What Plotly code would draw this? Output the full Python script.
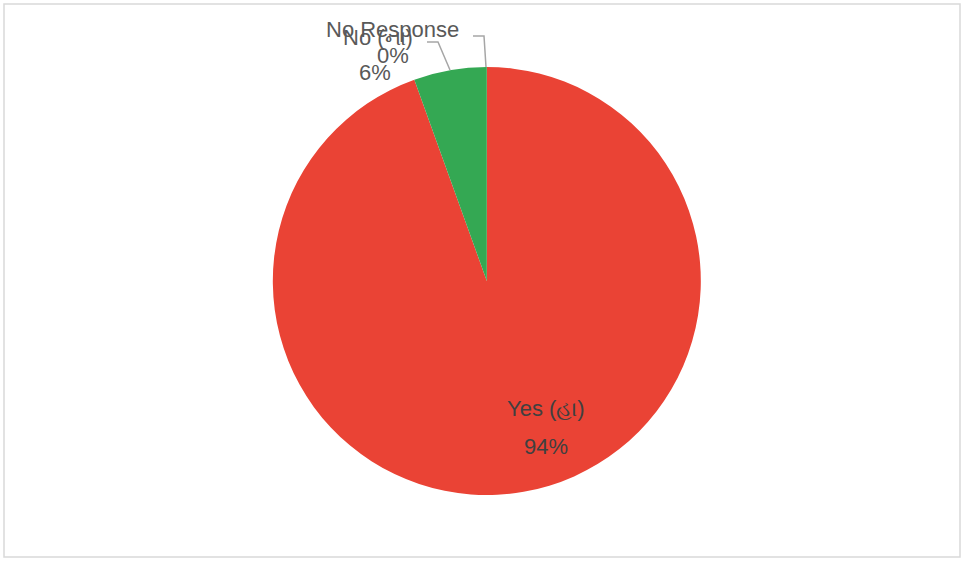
import plotly.graph_objects as go

labels = ["Yes (હા)", "No (ના)", "No Response"]
values = [94.5, 5.5, 0]
colors = ["#EA4335", "#34A853", "#FBBC04"]

W, H = 964, 561
ML, MR, MT, MB = 0, 0, 67, 66
PW, PH = W - ML - MR, H - MT - MB

def px(x):
    return (x - ML) / PW

def py(y):
    return (H - MB - y) / PH

fig = go.Figure(go.Pie(
    labels=labels,
    values=values,
    marker=dict(colors=colors, line=dict(width=0)),
    sort=False,
    direction="clockwise",
    rotation=0,
    textinfo="none",
    domain=dict(x=[0.01, 1], y=[0, 1]),
    showlegend=False,
    hoverinfo="label+percent",
))

total = sum(values)
pcts = [f"{v / total * 100:.0f}%" for v in values]
font_out = dict(family="Arial, Liberation Sans", size=22, color="#595959")
font_in = dict(family="Arial, Liberation Sans", size=22, color="#404040")

annotations = [
    dict(text=labels[0], x=px(546), y=py(408), font=font_in),
    dict(text=pcts[0], x=px(546), y=py(446), font=font_in),
    dict(text=labels[2], x=px(392), y=py(29), font=font_out),
    dict(text=pcts[2], x=px(393), y=py(55), font=font_out),
    dict(text=labels[1], x=px(378), y=py(38), font=font_out),
    dict(text=pcts[1], x=px(375), y=py(73), font=font_out),
]
for a in annotations:
    a.update(xref="paper", yref="paper", showarrow=False,
             xanchor="center", yanchor="middle")

line_style = dict(color="#A6A6A6", width=1.5)
shapes = [
    dict(type="path", xref="paper", yref="paper",
         path=f"M {px(473)} {py(36)} L {px(484)} {py(36)} L {px(486)} {py(67)}",
         line=line_style),
    dict(type="path", xref="paper", yref="paper",
         path=f"M {px(427)} {py(42)} L {px(438)} {py(42)} L {px(450)} {py(70)}",
         line=line_style),
    dict(type="rect", xref="paper", yref="paper",
         x0=px(4), x1=px(960), y0=py(557), y1=py(4),
         line=dict(color="#D9D9D9", width=1.5), layer="below"),
]

fig.update_layout(
    width=W, height=H,
    margin=dict(l=ML, r=MR, t=MT, b=MB),
    paper_bgcolor="white",
    plot_bgcolor="white",
    annotations=annotations,
    shapes=shapes,
)

fig.write_html("out.html", config={"displayModeBar": False},
               post_script="document.body.style.margin='0';")
